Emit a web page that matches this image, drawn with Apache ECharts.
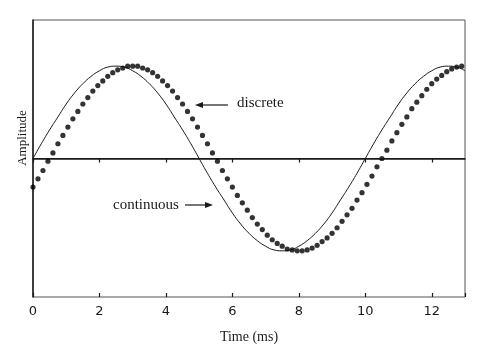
<!DOCTYPE html>
<html>
<head>
<meta charset="utf-8">
<script src="https://cdn.jsdelivr.net/npm/echarts@6/dist/echarts.min.js"></script>
<style>
  html, body { margin: 0; padding: 0; background: #fff; }
  #chart { width: 490px; height: 352px; }
</style>
</head>
<body>
<div id="chart"></div>
<script>
// continuous signal (ms / amplitude)
var contTime = [0, 0.25, 0.5, 0.75, 1, 1.25, 1.5, 1.75, 2, 2.25, 2.5, 2.75, 3, 3.25, 3.5, 3.75,
  4, 4.25, 4.5, 4.75, 5, 5.25, 5.5, 5.75, 6, 6.25, 6.5, 6.75, 7, 7.25, 7.5, 7.75,
  8, 8.25, 8.5, 8.75, 9, 9.25, 9.5, 9.75, 10, 10.25, 10.5, 10.75, 11, 11.25, 11.5, 11.75,
  12, 12.25, 12.5, 12.75, 13];
var contAmp = [0, 0.16, 0.31, 0.45, 0.59, 0.71, 0.81, 0.89, 0.95, 0.99, 1, 0.99, 0.95, 0.89, 0.81, 0.71,
  0.59, 0.45, 0.31, 0.16, 0, -0.16, -0.31, -0.45, -0.59, -0.71, -0.81, -0.89, -0.95, -0.99, -1, -0.99,
  -0.95, -0.89, -0.81, -0.71, -0.59, -0.45, -0.31, -0.16, 0, 0.16, 0.31, 0.45, 0.59, 0.71, 0.81, 0.89,
  0.95, 0.99, 1, 0.99, 0.95];

// discrete samples (dots)
var discTime = [0, 0.15, 0.3, 0.45, 0.6, 0.75, 0.9, 1.05, 1.2, 1.35, 1.5, 1.65, 1.8, 1.95, 2.1, 2.25,
  2.4, 2.55, 2.7, 2.85, 3, 3.15, 3.3, 3.45, 3.6, 3.75, 3.9, 4.05, 4.2, 4.35, 4.5, 4.65,
  4.8, 4.95, 5.1, 5.25, 5.4, 5.55, 5.7, 5.85, 6, 6.15, 6.3, 6.45, 6.6, 6.75, 6.9, 7.05,
  7.2, 7.35, 7.5, 7.65, 7.8, 7.95, 8.1, 8.25, 8.4, 8.55, 8.7, 8.85, 9, 9.15, 9.3, 9.45,
  9.6, 9.75, 9.9, 10.05, 10.2, 10.35, 10.5, 10.65, 10.8, 10.95, 11.1, 11.25, 11.4, 11.55,
  11.7, 11.85, 12, 12.15, 12.3, 12.45, 12.6, 12.75, 12.9];
var discAmp = [-0.31, -0.22, -0.13, -0.03, 0.06, 0.16, 0.25, 0.34, 0.43, 0.51, 0.59, 0.66, 0.73, 0.79, 0.84, 0.89,
  0.93, 0.96, 0.98, 1, 1, 1, 0.98, 0.96, 0.93, 0.89, 0.84, 0.79, 0.73, 0.66, 0.59, 0.51,
  0.43, 0.34, 0.25, 0.16, 0.06, -0.03, -0.13, -0.22, -0.31, -0.4, -0.48, -0.56, -0.64, -0.71, -0.77, -0.83,
  -0.88, -0.92, -0.95, -0.98, -0.99, -1, -1, -0.99, -0.97, -0.94, -0.9, -0.86, -0.81, -0.75, -0.68, -0.61,
  -0.54, -0.45, -0.37, -0.28, -0.19, -0.09, 0, 0.09, 0.19, 0.28, 0.37, 0.45, 0.54, 0.61,
  0.68, 0.75, 0.81, 0.86, 0.9, 0.94, 0.97, 0.99, 1];

var xTicks = [0, 2, 4, 6, 8, 10, 12];

var chart = echarts.init(document.getElementById('chart'));

var ink = '#1a1a1a';
var serif = '"Liberation Serif", "DejaVu Serif", serif';

var contData = contTime.map(function (t, i) { return [t, contAmp[i]]; });
var discData = discTime.map(function (t, i) { return [t, discAmp[i]]; });

chart.setOption({
  animation: false,
  backgroundColor: '#fff',
  grid: {
    left: 33, right: 25, top: 20, bottom: 55,
    show: true, borderColor: '#555', borderWidth: 1
  },
  xAxis: [
    {
      type: 'value', min: 0, max: 13, interval: 2,
      axisLine: { show: true, lineStyle: { color: ink, width: 1.5 } },
      axisTick: { show: true, length: 4, lineStyle: { color: ink, width: 1.2 } },
      axisLabel: {
        color: ink, fontSize: 13, margin: 8, fontFamily: '"DejaVu Sans", sans-serif',
        showMaxLabel: false,
        formatter: function (v) { return xTicks.indexOf(v) >= 0 ? String(v) : ''; }
      },
      splitLine: { show: false },
      name: 'Time (ms)', nameLocation: 'middle', nameGap: 33,
      nameTextStyle: { color: ink, fontSize: 14, fontFamily: serif }
    },
    {
      type: 'value', min: 0, max: 13, interval: 2, position: 'bottom',
      axisLine: { show: false },
      axisTick: { show: true, inside: true, length: 4, lineStyle: { color: ink, width: 1.2 } },
      axisLabel: { show: false },
      splitLine: { show: false }
    }
  ],
  yAxis: {
    type: 'value', min: -1.5, max: 1.5,
    axisLine: { show: true, lineStyle: { color: ink, width: 1.5 } },
    axisTick: { show: false },
    axisLabel: { show: false },
    splitLine: { show: false }
  },
  series: [
    {
      name: 'continuous',
      type: 'line',
      data: contData,
      smooth: true,
      showSymbol: false,
      lineStyle: { color: ink, width: 1 },
      markLine: {
        silent: true,
        symbol: ['none', 'none'],
        label: { show: false },
        lineStyle: { color: ink, width: 1, type: 'solid' },
        data: [{ yAxis: 0 }]
      },
      z: 2
    },
    {
      name: 'discrete',
      type: 'scatter',
      data: discData,
      symbol: 'circle',
      symbolSize: 5.2,
      itemStyle: { color: '#000' },
      z: 3
    }
  ],
  graphic: [
    {
      type: 'text', x: 23, y: 138, rotation: Math.PI / 2,
      style: { text: 'Amplitude', fill: ink, font: '13px ' + serif, align: 'center', verticalAlign: 'middle' }
    },
    {
      type: 'text', x: 237, y: 103,
      style: { text: 'discrete', fill: ink, font: '15px ' + serif, align: 'left', verticalAlign: 'middle' }
    },
    { type: 'line', shape: { x1: 200, y1: 105, x2: 228, y2: 105 }, style: { stroke: ink, lineWidth: 1.2 } },
    { type: 'polygon', shape: { points: [[195, 105], [203, 102], [203, 108]] }, style: { fill: ink } },
    {
      type: 'text', x: 113, y: 205,
      style: { text: 'continuous', fill: ink, font: '15px ' + serif, align: 'left', verticalAlign: 'middle' }
    },
    { type: 'line', shape: { x1: 185, y1: 205, x2: 208, y2: 205 }, style: { stroke: ink, lineWidth: 1.2 } },
    { type: 'polygon', shape: { points: [[213, 205], [205, 202], [205, 208]] }, style: { fill: ink } }
  ]
});
</script>
</body>
</html>
